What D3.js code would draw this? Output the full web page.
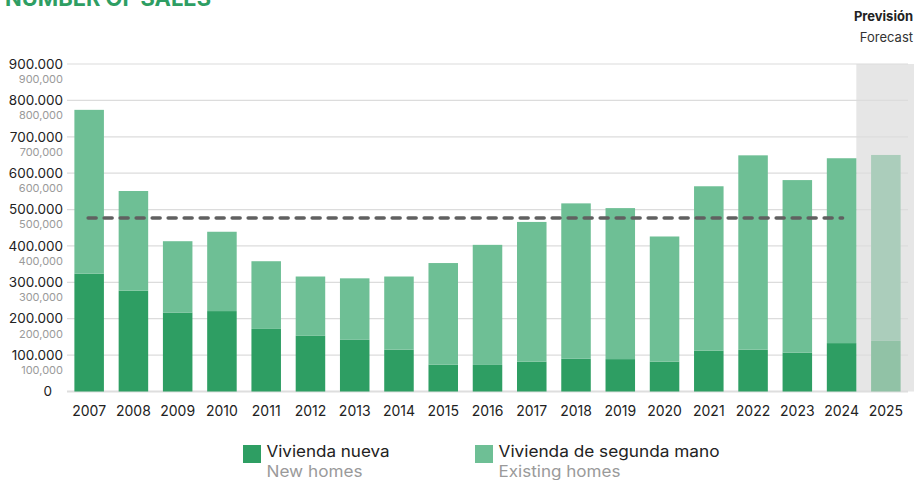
<!doctype html>
<html><head><meta charset="utf-8"/>
<script src="https://cdn.jsdelivr.net/npm/d3@7"></script>
<style>
  body { margin:0; background:#fff; }
  svg { display:block; font-family: Inter, "Noto Sans", sans-serif; }
</style>
</head><body>
<svg id="chart" width="914" height="480"></svg>
<script>
// Values (units: homes sold)
const years = ["2007","2008","2009","2010","2011","2012","2013","2014","2015","2016","2017","2018","2019","2020","2021","2022","2023","2024","2025"];
const totalSales = [774000,551000,413000,439000,358000,316000,311000,316000,353000,403000,466000,517000,504000,426000,564000,649000,581000,641000,650000];
const newHomes = [324000,277000,217000,221000,172000,153000,142000,115000,74000,73000,82000,90000,89000,82000,112000,115000,107000,133000,139000];
const existingHomes = totalSales.map((t, i) => t - newHomes[i]);
const forecastYears = ["2025"];
const averageLine = 477000; // dashed reference, 2007-2024
const yTicks = [0,100000,200000,300000,400000,500000,600000,700000,800000,900000];

const svg = d3.select("#chart");
const x = d3.scaleBand().domain(years).range([67, 908]).paddingInner(0.333).paddingOuter(0.167);
const y = d3.scaleLinear().domain([0, 900000]).range([391.5, 64]);

const fmtEs = v => d3.format(",")(v).replace(/,/g, ".");
const fmtEn = d3.format(",");

// forecast band: starts at the right edge of the last actual bar
const bandX = x("2024") + x.bandwidth();
svg.append("rect")
  .attr("x", bandX).attr("y", y(900000))
  .attr("width", 914 - bandX).attr("height", y(0) - y(900000))
  .attr("fill", "#e6e6e6");

// gridlines
svg.append("g").selectAll("line").data(yTicks).join("line")
  .attr("x1", 67).attr("x2", 908)
  .attr("y1", d => y(d)).attr("y2", d => y(d))
  .attr("stroke", d => d === 0 ? "#dedede" : "#dcdcdc")
  .attr("stroke-width", d => d === 0 ? 2 : 1.2);

// y labels (two lines)
const yl = svg.append("g");
yl.selectAll("text.es").data(yTicks.filter(d => d > 0)).join("text")
  .attr("class", "es")
  .attr("x", 63).attr("y", d => y(d)).attr("dy", "0.35em")
  .attr("text-anchor", "end").attr("font-size", 13.5).attr("fill", "#222")
  .text(fmtEs);
yl.selectAll("text.en").data(yTicks.filter(d => d > 0)).join("text")
  .attr("class", "en")
  .attr("x", 63).attr("y", d => y(d) + 15).attr("dy", "0.35em")
  .attr("text-anchor", "end").attr("font-size", 11).attr("fill", "#9a9a9a")
  .text(fmtEn);
yl.append("text").attr("x", 52).attr("y", y(0)).attr("dy", "0.35em")
  .attr("text-anchor", "end").attr("font-size", 13.5).attr("fill", "#222").text("0");

// bars
const isF = yr => forecastYears.includes(yr);
const bars = svg.append("g");
bars.selectAll("rect.new").data(years).join("rect")
  .attr("x", d => x(d)).attr("width", x.bandwidth())
  .attr("y", (d, i) => y(newHomes[i]))
  .attr("height", (d, i) => y(0) - y(newHomes[i]))
  .attr("fill", d => isF(d) ? "#91c2a6" : "#2e9e63");
bars.selectAll("rect.old").data(years).join("rect")
  .attr("x", d => x(d)).attr("width", x.bandwidth())
  .attr("y", (d, i) => y(totalSales[i]))
  .attr("height", (d, i) => y(totalSales[i] - existingHomes[i]) - y(totalSales[i]))
  .attr("fill", d => isF(d) ? "#abcdbb" : "#6ebf95");

// average dashed line
svg.append("line")
  .attr("x1", x("2007") + x.bandwidth() / 2 - 1)
  .attr("x2", x("2024") + x.bandwidth() / 2 + 1)
  .attr("y1", y(averageLine)).attr("y2", y(averageLine))
  .attr("stroke", "#606060").attr("stroke-width", 3.5)
  .attr("stroke-linecap", "round").attr("stroke-dasharray", "8,8");

// x labels
svg.append("g").selectAll("text").data(years).join("text")
  .attr("x", d => x(d) + x.bandwidth() / 2).attr("y", 411).attr("dy", "0.35em")
  .attr("text-anchor", "middle").attr("font-size", 14).attr("fill", "#222")
  .text(d => d);

// title (cut off at top, as in the source)
svg.append("text").attr("x", 5).attr("y", 6)
  .attr("font-size", 22).attr("font-weight", 700).attr("fill", "#2e9e63")
  .attr("textLength", 206).attr("lengthAdjust", "spacingAndGlyphs")
  .text("NUMBER OF SALES");

// forecast header
svg.append("text").attr("x", 913).attr("y", 16).attr("dy", "0.35em")
  .attr("text-anchor", "end").attr("font-size", 13).attr("font-weight", 700).attr("fill", "#222")
  .text("Previsión");
svg.append("text").attr("x", 913).attr("y", 37).attr("dy", "0.35em")
  .attr("text-anchor", "end").attr("font-size", 13).attr("fill", "#333")
  .text("Forecast");

// legend
const legend = [
  { x: 243, color: "#2e9e63", es: "Vivienda nueva", en: "New homes", esW: 123, enW: 96 },
  { x: 475, color: "#6ebf95", es: "Vivienda de segunda mano", en: "Existing homes", esW: 221, enW: 122 }
];
const lg = svg.append("g").selectAll("g").data(legend).join("g")
  .attr("transform", d => `translate(${d.x},0)`);
lg.append("rect").attr("x", 0).attr("y", 445).attr("width", 18).attr("height", 18).attr("fill", d => d.color);
lg.append("text").attr("x", 23.5).attr("y", 451).attr("dy", "0.35em")
  .attr("font-size", 16).attr("fill", "#222")
  .attr("textLength", d => d.esW).attr("lengthAdjust", "spacingAndGlyphs")
  .text(d => d.es);
lg.append("text").attr("x", 23.5).attr("y", 471).attr("dy", "0.35em")
  .attr("font-size", 16).attr("fill", "#9a9a9a")
  .attr("textLength", d => d.enW).attr("lengthAdjust", "spacingAndGlyphs")
  .text(d => d.en);
</script>
</body></html>
